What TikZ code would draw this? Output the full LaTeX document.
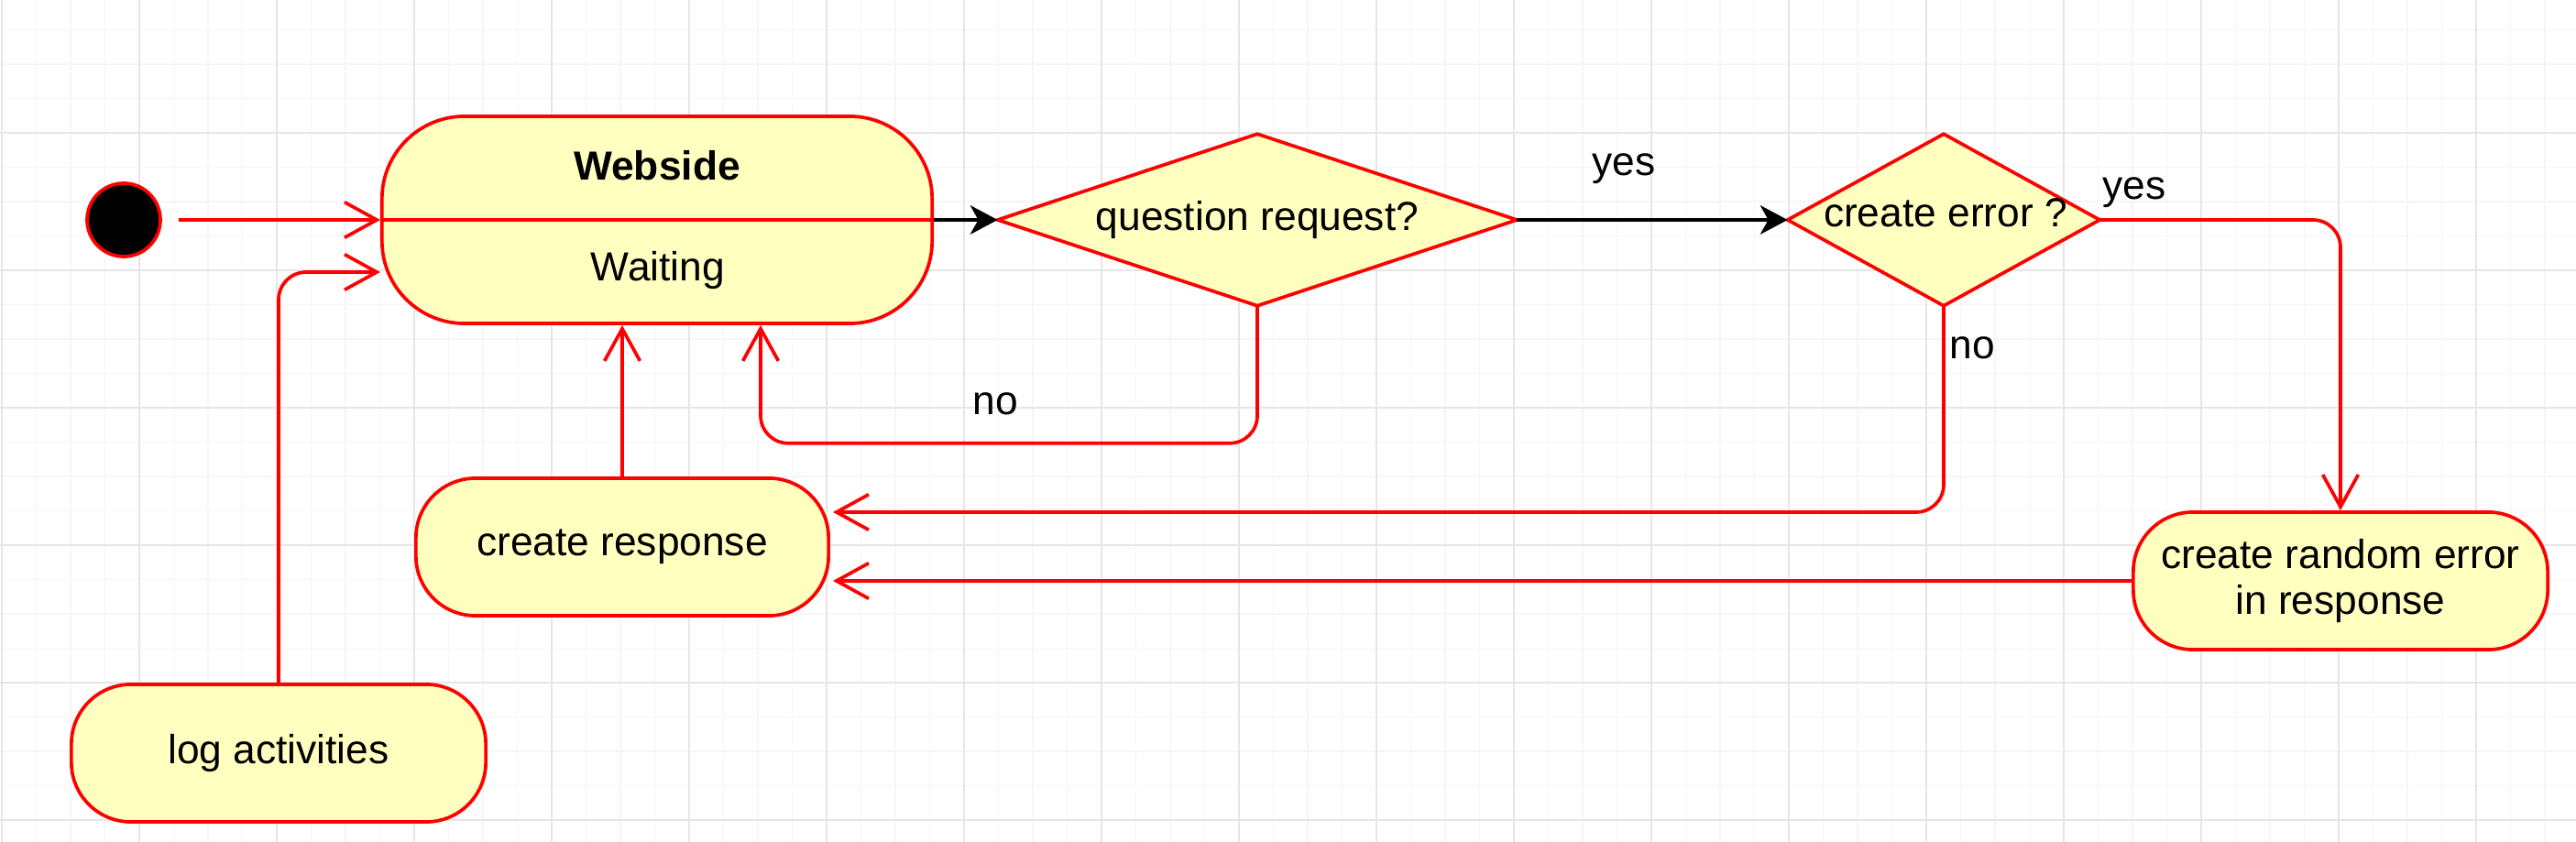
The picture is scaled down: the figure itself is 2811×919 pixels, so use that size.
\documentclass[tikz,border=0pt]{standalone}
\usepackage{fontspec}
\setmainfont{Liberation Sans}
\usetikzlibrary{arrows.meta,calc}
\definecolor{stfill}{HTML}{FFFFC0}
\definecolor{stred}{HTML}{FF0000}
\definecolor{gridmaj}{HTML}{E6E6E6}
\definecolor{gridmin}{HTML}{F6F6F6}
\begin{document}
\begin{tikzpicture}[x=0.01cm,y=-0.01cm,
  font=\fontsize{12.6pt}{14.2pt}\selectfont,
  state/.style={draw=stred, fill=stfill, line width=1.05pt, rounded corners=0.65cm,
    minimum width=4.5cm, minimum height=1.5cm, inner sep=0pt, align=center},
  tr/.style={draw=stred, line width=1.05pt, rounded corners=0.3cm,
    -{Straight Barb[length=10pt,width=11pt]}},
  ctrl/.style={draw=black, line width=1.05pt,
    -{Stealth[length=8.5pt,width=9pt,inset=2.5pt]}},
  diam/.style={rectangle, draw=none, inner sep=0pt},
  dshape/.style={draw=stred, fill=stfill, line width=1.05pt, line join=miter},
  lbl/.style={inner sep=0pt, anchor=base}]
\useasboundingbox (0,0) rectangle (2811,919);
\fill[white] (0,0) rectangle (2811,919);
% grid
\foreach \i in {0,...,75} {\draw[gridmin, line width=0.3pt] ({2+37.5*\i},0) -- ({2+37.5*\i},919);}
\foreach \j in {0,...,24} {\draw[gridmin, line width=0.3pt] (0,{32.5+37.5*\j}) -- (2811,{32.5+37.5*\j});}
\foreach \i in {0,...,18} {\draw[gridmaj, line width=0.3pt] ({2+150*\i},0) -- ({2+150*\i},919);}
\foreach \j in {0,...,6} {\draw[gridmaj, line width=0.3pt] (0,{145+150*(\j-1)}) -- (2811,{145+150*(\j-1)});}

% nodes
\node[circle, draw=stred, fill=black, line width=1.05pt, minimum size=0.8cm, inner sep=0pt] (init) at (135,240) {};
\node[state, minimum width=6cm, minimum height=2.26cm, rounded corners=0.9cm] (ws) at (717,240) {};
\draw[stred, line width=1.05pt] (ws.west) -- (ws.east);
\node[lbl, font=\fontsize{12.6pt}{14.2pt}\selectfont\bfseries] (wst) at (717,197) {Webside};
\node[lbl] (wsw) at (718,307) {Waiting};

\node[diam, minimum width=5.65cm, minimum height=1.86cm] (qr) at (1372,240) {};
\draw[dshape] (qr.west) -- (qr.north) -- (qr.east) -- (qr.south) -- cycle;
\node[lbl] (qrt) at (1372,252) {question request?};

\node[diam, minimum width=3.39cm, minimum height=1.86cm] (ce) at (2121,240) {};
\draw[dshape] (ce.west) -- (ce.north) -- (ce.east) -- (ce.south) -- cycle;
\node[lbl] (cet) at (2123,248) {create error ?};

\node[state] (cr) at (679,597) {create response};
\node[state, minimum width=4.52cm] (cre) at (2554,634) {create random error\\in response};
\node[state, minimum width=4.52cm] (log) at (304,822) {log activities};

% connectors
\draw[tr] ($(init.east)+(18,0)$) -- (ws.west);
\draw[tr] (log.north) |- ($(ws.west)+(0,57)$);
\draw[ctrl] (ws.east) -- (qr.west);
\draw[ctrl] (qr.east) -- (ce.west);
\draw[tr] (qr.south) -- ++(0,150) -| ($(ws.south)+(113,0)$);
\draw[tr] (cr.north) -- (cr.north |- ws.south);
\draw[tr] (ce.south) |- ($(cr.east)+(3,-38)$);
\draw[tr] (ce.east) -| (cre.north);
\draw[tr] (cre.west) -- ($(cr.east)+(3,37)$);

% labels
\node[lbl] (l1) at (1772,192) {yes};
\node[lbl] (l2) at (1086,453) {no};
\node[lbl] (l3) at (2152,392) {no};
\node[lbl] (l4) at (2329,218) {yes};
\end{tikzpicture}
\end{document}
